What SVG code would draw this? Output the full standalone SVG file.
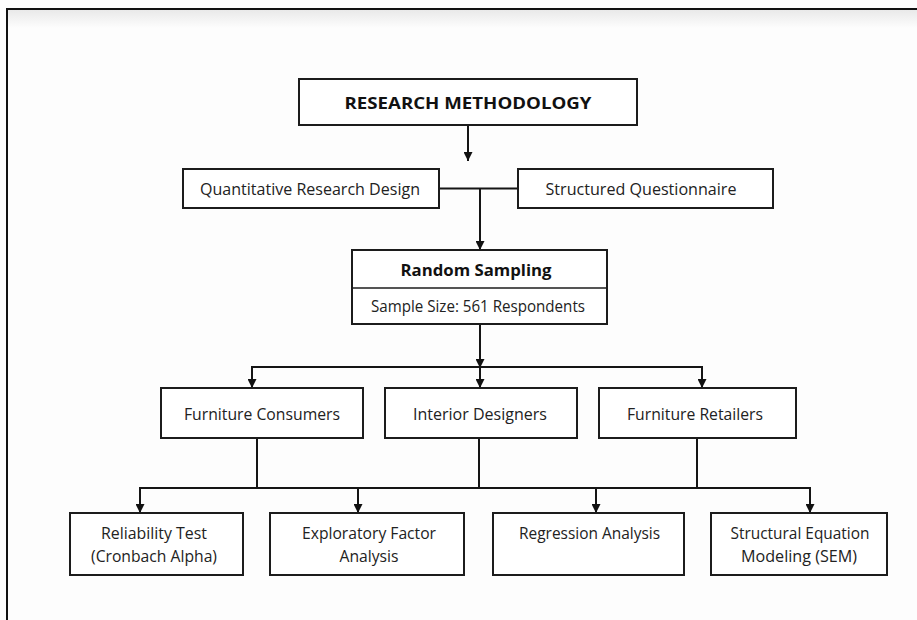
<svg xmlns="http://www.w3.org/2000/svg" width="917" height="620" viewBox="0 0 917 620">
<defs>
<linearGradient id="topband" x1="0" y1="0" x2="0" y2="1">
<stop offset="0" stop-color="#e9e9e9"/>
<stop offset="1" stop-color="#fdfdfd"/>
</linearGradient>
<marker id="ah" viewBox="0 0 10 10" refX="10" refY="5" markerUnits="userSpaceOnUse" markerWidth="9" markerHeight="9" orient="auto">
<path d="M0,0 L10,5 L0,10 z" fill="#111"/>
</marker>
<style>
.box{fill:#fff;stroke:#1c1c1c;stroke-width:2}
.t{font-family:"Open Sans","Noto Sans","Liberation Sans",sans-serif;font-size:16.5px;fill:#222;text-anchor:middle}
.b{font-weight:bold;fill:#111}
.s{font-size:16px}
.c{fill:none;stroke:#151515;stroke-width:2}
.a{marker-end:url(#ah)}
</style>
</defs>
<rect x="0" y="0" width="917" height="620" fill="#fdfdfd"/>
<rect x="7" y="10" width="910" height="18" fill="url(#topband)"/>
<path d="M7,620 V9 H917" fill="none" stroke="#111" stroke-width="2"/>

<g id="connectors">
<line class="c a" x1="468" y1="125" x2="468" y2="161"/>
<line class="c" x1="439" y1="188.5" x2="518" y2="188.5"/>
<line class="c a" x1="480" y1="188.5" x2="480" y2="250"/>
<line class="c a" x1="480" y1="324" x2="480" y2="368"/>
<line class="c a" x1="480" y1="367" x2="480" y2="388"/>
<polyline class="c" points="252,388 252,367 702,367 702,388"/>
<line class="c a" x1="252" y1="367" x2="252" y2="388"/>
<line class="c a" x1="702" y1="367" x2="702" y2="388"/>
<line class="c" x1="257" y1="438" x2="257" y2="488"/>
<line class="c" x1="479" y1="438" x2="479" y2="488"/>
<line class="c" x1="697" y1="438" x2="697" y2="488"/>
<line class="c" x1="139" y1="488" x2="811" y2="488"/>
<line class="c a" x1="140" y1="488" x2="140" y2="513"/>
<line class="c a" x1="358" y1="488" x2="358" y2="513"/>
<line class="c a" x1="596" y1="488" x2="596" y2="513"/>
<line class="c a" x1="810" y1="488" x2="810" y2="513"/>
</g>

<g id="research-methodology">
<rect class="box" x="299" y="79" width="338" height="46"/>
<text class="t b" x="468" y="109" font-size="19" textLength="247" lengthAdjust="spacingAndGlyphs">RESEARCH METHODOLOGY</text>
</g>
<g id="quantitative-research-design">
<rect class="box" x="183" y="169" width="256" height="39"/>
<text class="t" x="310" y="194.5" textLength="220" lengthAdjust="spacingAndGlyphs">Quantitative Research Design</text>
</g>
<g id="structured-questionnaire">
<rect class="box" x="518" y="169" width="255" height="39"/>
<text class="t" x="641" y="194.5" textLength="191" lengthAdjust="spacingAndGlyphs">Structured Questionnaire</text>
</g>
<g id="random-sampling">
<rect class="box" x="352" y="250" width="255" height="74"/>
<line x1="352" y1="288" x2="607" y2="288" stroke="#1c1c1c" stroke-width="1.5"/>
<text class="t b" x="476" y="276" font-size="17.5" textLength="151" lengthAdjust="spacingAndGlyphs">Random Sampling</text>
<text class="t" x="478" y="312" textLength="214" lengthAdjust="spacingAndGlyphs">Sample Size: 561 Respondents</text>
</g>
<g id="furniture-consumers">
<rect class="box" x="161" y="388" width="202" height="50"/>
<text class="t" x="262" y="419.5" textLength="156" lengthAdjust="spacingAndGlyphs">Furniture Consumers</text>
</g>
<g id="interior-designers">
<rect class="box" x="385" y="388" width="192" height="50"/>
<text class="t" x="480" y="419.5" textLength="134" lengthAdjust="spacingAndGlyphs">Interior Designers</text>
</g>
<g id="furniture-retailers">
<rect class="box" x="599" y="388" width="197" height="50"/>
<text class="t" x="695" y="419.5" textLength="136" lengthAdjust="spacingAndGlyphs">Furniture Retailers</text>
</g>
<g id="reliability-test">
<rect class="box" x="70" y="513" width="173" height="62"/>
<text class="t s" x="154" y="539" textLength="106" lengthAdjust="spacingAndGlyphs">Reliability Test</text>
<text class="t s" x="154" y="562" textLength="126" lengthAdjust="spacingAndGlyphs">(Cronbach Alpha)</text>
</g>
<g id="exploratory-factor-analysis">
<rect class="box" x="270" y="513" width="194" height="62"/>
<text class="t s" x="369" y="539" textLength="134" lengthAdjust="spacingAndGlyphs">Exploratory Factor</text>
<text class="t s" x="369" y="562" textLength="59" lengthAdjust="spacingAndGlyphs">Analysis</text>
</g>
<g id="regression-analysis">
<rect class="box" x="493" y="513" width="191" height="62"/>
<text class="t s" x="589.5" y="539" textLength="141" lengthAdjust="spacingAndGlyphs">Regression Analysis</text>
</g>
<g id="sem">
<rect class="box" x="711" y="513" width="176" height="62"/>
<text class="t s" x="800" y="539" textLength="139" lengthAdjust="spacingAndGlyphs">Structural Equation</text>
<text class="t s" x="799" y="562" textLength="116" lengthAdjust="spacingAndGlyphs">Modeling (SEM)</text>
</g>
</svg>
